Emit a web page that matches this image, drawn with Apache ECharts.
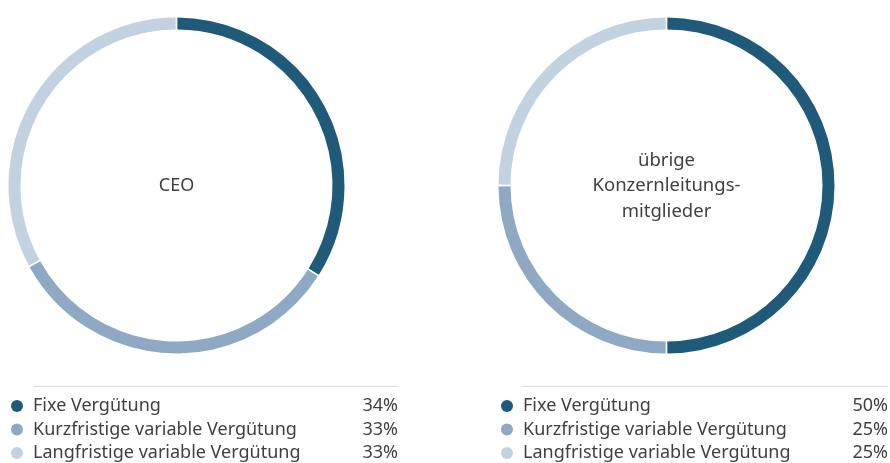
<!DOCTYPE html>
<html>
<head>
<meta charset="utf-8">
<script src="https://cdn.jsdelivr.net/npm/echarts@6/dist/echarts.min.js"></script>
<style>
  html, body { margin: 0; padding: 0; background: #fff; }
  #chart { width: 890px; height: 463px; }
</style>
</head>
<body>
<div id="chart"></div>
<script>
var categories = ['Fixe Vergütung', 'Kurzfristige variable Vergütung', 'Langfristige variable Vergütung'];
var ceoValues = [34, 33, 33];
var otherValues = [50, 25, 25];
var colors = ['#1f5a79', '#8fa8c3', '#c3d2e1'];
var textColor = '#404040';
var font = 'Noto Sans';

var chart = echarts.init(document.getElementById('chart'));

function makeData(values) {
  return categories.map(function (name, i) {
    return { name: name, value: values[i] };
  });
}

// Legende mit rechtsbündigen Prozentwerten
function makeLegend(left, values) {
  return {
    orient: 'vertical',
    left: left,
    top: 397,
    padding: 0,
    icon: 'circle',
    itemWidth: 12,
    itemHeight: 12,
    itemGap: 5.5,
    selectedMode: false,
    data: categories,
    formatter: function (name) {
      var v = values[categories.indexOf(name)];
      return '{n|' + name + '}{p|' + v + '%}';
    },
    textStyle: {
      color: textColor,
      fontFamily: font,
      fontSize: 18,
      rich: {
        n: { width: 320, padding: [0, 0, 0, 5], fontSize: 18, fontFamily: font, color: textColor, lineHeight: 22 },
        p: { width: 45, align: 'right', fontSize: 18, fontFamily: font, color: textColor, lineHeight: 22 }
      }
    }
  };
}

function makePie(cx, values) {
  return {
    type: 'pie',
    center: [cx, 185.5],
    radius: [156, 168],
    startAngle: 90,
    clockwise: true,
    padAngle: 0.6,
    silent: true,
    label: { show: false },
    labelLine: { show: false },
    data: makeData(values)
  };
}

var option = {
  color: colors,
  animation: false,
  legend: [makeLegend(11, ceoValues), makeLegend(501, otherValues)],
  series: [makePie(176.5, ceoValues), makePie(666.5, otherValues)],
  graphic: [
    { type: 'line', shape: { x1: 33, y1: 386.5, x2: 398, y2: 386.5 }, style: { stroke: '#dcdcdc', lineWidth: 1 } },
    { type: 'line', shape: { x1: 522, y1: 386.5, x2: 888, y2: 386.5 }, style: { stroke: '#dcdcdc', lineWidth: 1 } },
    { type: 'text', x: 176.5, y: 186, style: { text: 'CEO', fill: textColor, font: '18px "' + font + '"', textAlign: 'center', textVerticalAlign: 'middle' } },
    { type: 'text', x: 666.5, y: 186, style: { text: 'übrige\nKonzernleitungs-\nmitglieder', fill: textColor, font: '18.5px "' + font + '"', lineHeight: 25.5, textAlign: 'center', textVerticalAlign: 'middle' } }
  ]
};

chart.setOption(option);
</script>
</body>
</html>
